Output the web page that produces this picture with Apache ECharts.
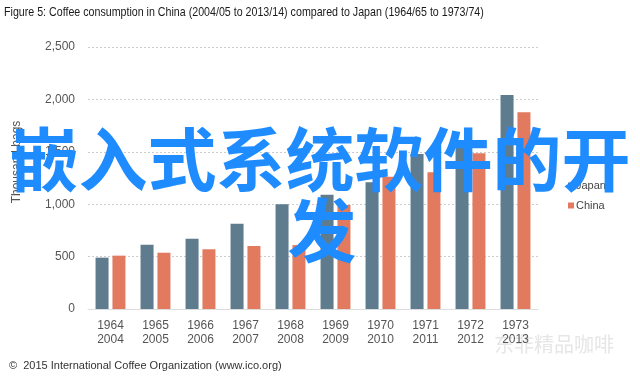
<!DOCTYPE html>
<html>
<head>
<meta charset="utf-8">
<script src="https://cdn.jsdelivr.net/npm/echarts@6/dist/echarts.min.js"></script>
<style>
  html, body { margin: 0; padding: 0; background: #fff; }
  #main { width: 640px; height: 377px; }
</style>
</head>
<body>
<div id="main"></div>
<script>
// crop years, Japan then China
var japanYears = ['1964', '1965', '1966', '1967', '1968', '1969', '1970', '1971', '1972', '1973'];
var chinaYears = ['2004', '2005', '2006', '2007', '2008', '2009', '2010', '2011', '2012', '2013'];
// thousand bags
var japanValues = [490, 614, 670, 814, 1000, 1090, 1210, 1478, 1600, 2042];
var chinaValues = [509, 537, 570, 601, 610, 992, 1262, 1304, 1487, 1878];
var yTicks = [0, 500, 1000, 1500, 2000, 2500];

var categories = japanYears.map(function (y, i) { return y + '\n' + chinaYears[i]; });

var chartDom = document.getElementById('main');
var myChart = echarts.init(chartDom);
var option;

option = {
  animation: false,
  legend: {
    orient: 'vertical',
    left: 563,
    top: 175,
    itemWidth: 6,
    itemHeight: 6,
    itemGap: 9,
    icon: 'rect',
    textStyle: { fontFamily: 'Liberation Sans', fontSize: 11, color: '#444', padding: [0, 0, 0, -3] },
    data: ['Japan', 'China']
  },
  grid: { left: 88, right: 102, top: 47, bottom: 68 },
  xAxis: {
    type: 'category',
    data: categories,
    axisTick: { show: false },
    axisLine: { lineStyle: { color: '#ddd', width: 1 } },
    axisLabel: {
      margin: 10,
      fontFamily: 'Liberation Sans',
      fontSize: 12,
      lineHeight: 14,
      color: '#555',
      interval: 0
    }
  },
  yAxis: {
    type: 'value',
    min: yTicks[0],
    max: yTicks[yTicks.length - 1],
    interval: 500,
    axisLine: { show: false },
    axisTick: { show: false },
    axisLabel: {
      margin: 13,
      fontFamily: 'Liberation Sans',
      fontSize: 12,
      color: '#555',
      formatter: function (v) { return v.toLocaleString('en-US'); }
    },
    splitLine: { lineStyle: { color: '#ccc', type: [2, 2] } }
  },
  series: [
    {
      name: 'Japan',
      type: 'bar',
      data: japanValues,
      barWidth: 13,
      barGap: '30%',
      itemStyle: { color: '#5f7b8e' }
    },
    {
      name: 'China',
      type: 'bar',
      data: chinaValues,
      barWidth: 13,
      itemStyle: { color: '#e27a60' }
    }
  ],
  graphic: [
    {
      // title, squeezed to match the narrow original face
      type: 'text',
      position: [4, 12],
      scaleX: 0.82,
      style: {
        text: 'Figure 5: Coffee consumption in China (2004/05 to 2013/14) compared to Japan (1964/65 to 1973/74)',
        x: 0, y: 0,
        fontFamily: 'Liberation Sans',
        fontSize: 13,
        fill: '#1a1a1a',
        textVerticalAlign: 'middle'
      }
    },
    {
      type: 'text',
      position: [17, 162],
      rotation: Math.PI / 2,
      style: {
        text: 'Thousand bags',
        x: 0, y: 0,
        fontFamily: 'Liberation Sans',
        fontSize: 12,
        fill: '#555',
        textAlign: 'center',
        textVerticalAlign: 'middle'
      }
    },
    {
      type: 'text',
      left: 9,
      top: 360,
      style: {
        text: '\u00a9  2015 International Coffee Organization (www.ico.org)',
        fontFamily: 'Liberation Sans',
        fontSize: 11,
        fill: '#333'
      }
    },
    {
      type: 'text',
      left: 494,
      top: 334,
      style: {
        text: '东非精品咖啡',
        fontFamily: 'Noto Sans CJK SC',
        fontSize: 20,
        fill: '#e6e6e6'
      }
    },
    {
      type: 'text',
      z: 100,
      position: [320, 160],
      style: {
        text: '嵌入式系统软件的开',
        x: 0, y: 0,
        fontFamily: 'Noto Sans CJK SC',
        fontWeight: 'bold',
        fontSize: 69,
        fill: '#1e8cff',
        textAlign: 'center',
        textVerticalAlign: 'middle'
      }
    },
    {
      type: 'text',
      z: 100,
      position: [322, 231],
      style: {
        text: '发',
        x: 0, y: 0,
        fontFamily: 'Noto Sans CJK SC',
        fontWeight: 'bold',
        fontSize: 69,
        fill: '#1e8cff',
        textAlign: 'center',
        textVerticalAlign: 'middle'
      }
    }
  ]
};

option && myChart.setOption(option);
</script>
</body>
</html>
